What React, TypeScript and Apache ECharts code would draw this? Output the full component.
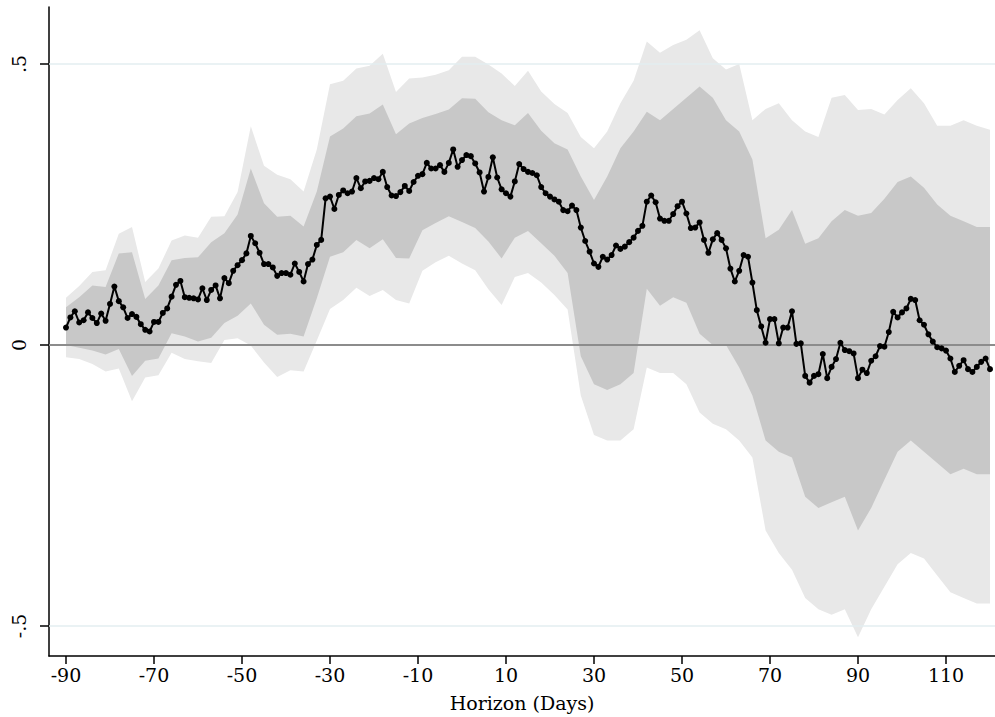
import React, { useEffect, useRef } from "react";
import * as echarts from "echarts";

// Daily point estimates, horizon -90 .. 120
const firstDay = -90;
const estimate = [
  0.031, 0.049, 0.060, 0.040, 0.044, 0.058, 0.048, 0.039, 0.056, 0.043,
  0.073, 0.104, 0.078, 0.067, 0.048, 0.055, 0.050, 0.037, 0.027, 0.024,
  0.041, 0.041, 0.057, 0.065, 0.086, 0.107, 0.114, 0.085, 0.084, 0.083,
  0.081, 0.101, 0.080, 0.098, 0.106, 0.083, 0.119, 0.110, 0.132, 0.142,
  0.151, 0.163, 0.194, 0.181, 0.164, 0.144, 0.144, 0.138, 0.123, 0.128,
  0.128, 0.125, 0.145, 0.130, 0.113, 0.144, 0.152, 0.178, 0.187, 0.261,
  0.264, 0.242, 0.267, 0.275, 0.270, 0.273, 0.297, 0.279, 0.291, 0.292,
  0.297, 0.295, 0.308, 0.281, 0.266, 0.265, 0.272, 0.283, 0.274, 0.290,
  0.301, 0.304, 0.324, 0.314, 0.314, 0.320, 0.308, 0.324, 0.348, 0.317,
  0.329, 0.338, 0.336, 0.323, 0.307, 0.273, 0.299, 0.334, 0.298, 0.277,
  0.270, 0.264, 0.291, 0.322, 0.313, 0.308, 0.306, 0.302, 0.281, 0.270,
  0.264, 0.259, 0.255, 0.240, 0.238, 0.248, 0.240, 0.209, 0.185, 0.166,
  0.145, 0.139, 0.157, 0.152, 0.160, 0.177, 0.171, 0.175, 0.183, 0.191,
  0.203, 0.212, 0.255, 0.266, 0.254, 0.225, 0.221, 0.221, 0.233, 0.247,
  0.255, 0.234, 0.208, 0.209, 0.218, 0.187, 0.164, 0.188, 0.199, 0.187,
  0.172, 0.136, 0.113, 0.132, 0.160, 0.157, 0.111, 0.062, 0.033, 0.004,
  0.046, 0.046, 0.003, 0.031, 0.031, 0.060, 0.002, 0.003, -0.055, -0.067,
  -0.055, -0.052, -0.016, -0.059, -0.039, -0.025, 0.004, -0.009, -0.011, -0.015,
  -0.059, -0.044, -0.050, -0.028, -0.020, -0.002, -0.003, 0.023, 0.059, 0.049,
  0.058, 0.065, 0.082, 0.080, 0.044, 0.036, 0.019, 0.006, -0.004, -0.006,
  -0.010, -0.024, -0.048, -0.037, -0.027, -0.043, -0.048, -0.039, -0.030, -0.024,
  -0.043,
];

// Confidence band edges, sampled every third day from -90
const bandStep = 3;
const outerHi = [
  0.084, 0.105, 0.130, 0.133, 0.198, 0.210, 0.112, 0.136, 0.186, 0.195,
  0.191, 0.228, 0.229, 0.272, 0.389, 0.319, 0.303, 0.295, 0.273, 0.348,
  0.464, 0.470, 0.492, 0.497, 0.518, 0.450, 0.474, 0.476, 0.481, 0.489,
  0.513, 0.513, 0.499, 0.483, 0.461, 0.488, 0.451, 0.429, 0.413, 0.370,
  0.350, 0.380, 0.430, 0.470, 0.540, 0.520, 0.534, 0.543, 0.560, 0.510,
  0.490, 0.500, 0.400, 0.420, 0.430, 0.400, 0.380, 0.370, 0.440, 0.445,
  0.418, 0.420, 0.410, 0.436, 0.457, 0.430, 0.390, 0.390, 0.400, 0.390,
  0.383,
];
const innerHi = [
  0.067, 0.085, 0.106, 0.103, 0.163, 0.165, 0.082, 0.106, 0.151, 0.155,
  0.156, 0.183, 0.199, 0.232, 0.314, 0.252, 0.228, 0.230, 0.211, 0.273,
  0.371, 0.385, 0.407, 0.412, 0.428, 0.375, 0.394, 0.404, 0.411, 0.419,
  0.439, 0.438, 0.414, 0.400, 0.391, 0.413, 0.381, 0.359, 0.348, 0.300,
  0.258, 0.300, 0.350, 0.380, 0.415, 0.400, 0.420, 0.440, 0.460, 0.440,
  0.400, 0.380, 0.330, 0.190, 0.205, 0.240, 0.180, 0.190, 0.220, 0.240,
  0.230, 0.235, 0.260, 0.290, 0.300, 0.280, 0.250, 0.230, 0.220, 0.210,
  0.210,
];
const innerLo = [
  0.000, -0.005, -0.010, -0.017, -0.007, -0.055, -0.028, -0.024, 0.021, 0.015,
  0.006, 0.013, 0.039, 0.052, 0.074, 0.036, 0.018, 0.020, 0.015, 0.083,
  0.157, 0.165, 0.187, 0.172, 0.188, 0.155, 0.154, 0.204, 0.217, 0.229,
  0.219, 0.208, 0.184, 0.154, 0.191, 0.203, 0.181, 0.159, 0.128, -0.020,
  -0.070, -0.080, -0.070, -0.050, 0.100, 0.070, 0.085, 0.075, 0.020, 0.000,
  0.000, -0.040, -0.090, -0.170, -0.190, -0.200, -0.270, -0.290, -0.280, -0.270,
  -0.330, -0.290, -0.240, -0.190, -0.170, -0.190, -0.210, -0.230, -0.220, -0.230,
  -0.230,
];
const outerLo = [
  -0.022, -0.025, -0.034, -0.047, -0.042, -0.100, -0.058, -0.054, -0.014, -0.025,
  -0.029, -0.032, 0.009, 0.012, -0.001, -0.031, -0.057, -0.045, -0.047, 0.008,
  0.064, 0.080, 0.102, 0.087, 0.098, 0.080, 0.074, 0.132, 0.147, 0.159,
  0.145, 0.133, 0.099, 0.071, 0.121, 0.128, 0.111, 0.089, 0.063, -0.090,
  -0.160, -0.170, -0.170, -0.150, -0.040, -0.050, -0.050, -0.070, -0.120, -0.140,
  -0.150, -0.170, -0.200, -0.330, -0.370, -0.400, -0.450, -0.470, -0.480, -0.470,
  -0.520, -0.470, -0.430, -0.390, -0.370, -0.380, -0.410, -0.440, -0.450, -0.460,
  -0.460,
];

const xTicks = [-90, -70, -50, -30, -10, 10, 30, 50, 70, 90, 110];
const yTicks = [-0.5, 0, 0.5];
const gridLevels = [0.5, -0.5];

const FONT = "DejaVu Serif";
const LIGHT = "#e8e8e8";
const DARK = "#c8c8c8";

const days = estimate.map((_, i) => firstDay + i);
const bandDays = outerHi.map((_, i) => firstDay + i * bandStep);

const fmtY = (v: number) => {
  if (v === 0) return "0";
  const s = String(Math.abs(v)).replace(/^0/, "");
  return (v < 0 ? "-" : "") + s;
};

// A filled band between two edges, drawn as one polygon through the axis scales
function bandSeries(name: string, lo: number[], hi: number[], color: string, z: number) {
  return {
    name,
    type: "custom",
    silent: true,
    z,
    data: bandDays.map((d, i) => [d, lo[i], hi[i]]),
    encode: { x: 0, y: [1, 2] },
    renderItem: (params: any, api: any) => {
      if (params.dataIndex !== 0) return null;
      const upper = bandDays.map((d, i) => api.coord([d, hi[i]]));
      const lower = bandDays.map((d, i) => api.coord([d, lo[i]])).reverse();
      return {
        type: "polygon",
        shape: { points: upper.concat(lower) },
        style: { fill: color, stroke: null },
      };
    },
  };
}

export default function App() {
  const ref = useRef<HTMLDivElement>(null);

  useEffect(() => {
    if (!ref.current) return;
    const chart = echarts.init(ref.current, undefined, { renderer: "svg" });

    chart.setOption({
      animation: false,
      backgroundColor: "#ffffff",
      grid: { left: 49, right: 0, top: 7, bottom: 61, containLabel: false },
      xAxis: {
        type: "value",
        min: -93.864,
        max: 121.136,
        axisLine: { show: true, onZero: false, lineStyle: { color: "#000", width: 1.5 } },
        axisTick: { show: true, length: 8, customValues: xTicks, lineStyle: { color: "#000", width: 1.5 } },
        axisLabel: { customValues: xTicks, fontFamily: FONT, fontSize: 19, color: "#000", margin: 9 },
        splitLine: { show: false },
        name: "Horizon (Days)",
        nameLocation: "middle",
        nameGap: 37,
        nameTextStyle: { fontFamily: FONT, fontSize: 19, color: "#000" },
      },
      yAxis: {
        type: "value",
        min: -0.5534,
        max: 0.6014,
        axisLine: { show: true, onZero: false, lineStyle: { color: "#000", width: 1.5 } },
        axisTick: { show: true, length: 9, customValues: yTicks, lineStyle: { color: "#000", width: 1.5 } },
        axisLabel: {
          customValues: yTicks,
          rotate: 90,
          formatter: fmtY,
          fontFamily: FONT,
          fontSize: 19,
          color: "#000",
          margin: 21,
        },
        splitLine: { show: false },
      },
      series: [
        bandSeries("outer", outerLo, outerHi, LIGHT, 1),
        bandSeries("inner", innerLo, innerHi, DARK, 2),
        {
          name: "estimate",
          type: "line",
          data: days.map((d, i) => [d, estimate[i]]),
          symbol: "circle",
          symbolSize: 6,
          itemStyle: { color: "#000" },
          lineStyle: { color: "#000", width: 2 },
          z: 10,
          markLine: {
            silent: true,
            symbol: "none",
            z: 3,
            label: { show: false },
            data: [
              ...gridLevels.map((v) => ({ yAxis: v, lineStyle: { color: "#e3eef0", width: 1.5, type: "solid" } })),
              { yAxis: 0, lineStyle: { color: "#8c8c8c", width: 2, type: "solid" } },
            ],
          },
        },
      ],
    });

    return () => chart.dispose();
  }, []);

  return (
    <div
      ref={ref}
      style={{ position: "fixed", left: 0, top: 0, width: 995, height: 717, background: "#fff" }}
    />
  );
}
